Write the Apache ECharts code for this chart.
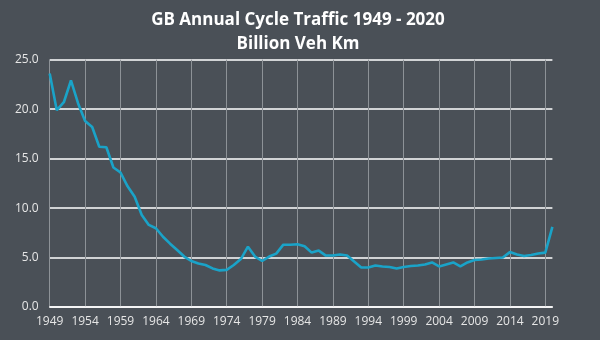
<!DOCTYPE html>
<html><head><meta charset="utf-8">
<script src="https://cdn.jsdelivr.net/npm/echarts@6/dist/echarts.min.js"></script>
<style>html,body{margin:0;padding:0;background:#4a5057;}#c{width:600px;height:340px;}</style>
</head><body><div id="c"></div>
<script>
const titleLines = ['GB Annual Cycle Traffic 1949 - 2020', 'Billion Veh Km'];
const years = [];
for (let y = 1949; y <= 2020; y++) years.push(String(y));
const traffic = [
  23.6, 19.9, 20.7, 22.9, 20.6, 18.8, 18.2, 16.2, 16.15, 14.1,
  13.6, 12.2, 11.15, 9.3, 8.3, 7.96, 7.1, 6.4, 5.76, 5.1,
  4.65, 4.4, 4.25, 3.9, 3.7, 3.75, 4.25, 4.85, 6.1, 5.1,
  4.65, 5.1, 5.4, 6.3, 6.3, 6.35, 6.15, 5.5, 5.7, 5.2,
  5.2, 5.3, 5.2, 4.6, 4.0, 4.0, 4.2, 4.1, 4.05, 3.9,
  4.05, 4.15, 4.2, 4.3, 4.5, 4.1, 4.3, 4.5, 4.1, 4.5,
  4.75, 4.8, 4.9, 4.95, 5.0, 5.55, 5.3, 5.15, 5.25, 5.4,
  5.5, 8.1
];
const yTicks = { min: 0, max: 25, interval: 5 };

const chart = echarts.init(document.getElementById('c'));
chart.setOption({
  backgroundColor: '#4a5057',
  animation: false,
  title: {
    text: titleLines.join('\n'),
    left: 293,
    textAlign: 'center',
    top: 3,
    textStyle: { color: '#ffffff', fontFamily: 'Open Sans', fontWeight: 'bold', fontSize: 17, lineHeight: 24 }
  },
  grid: { left: 49.7, right: 47.6, top: 59.7, bottom: 33 },
  xAxis: {
    type: 'category',
    data: years,
    boundaryGap: false,
    axisLine: { show: true, lineStyle: { color: '#ffffff', width: 1.5 } },
    axisTick: { show: false },
    axisLabel: { interval: 4, color: '#e6e6e6', fontFamily: 'Open Sans', fontSize: 12, margin: 9 },
    splitLine: { show: true, interval: 4, lineStyle: { color: '#8d9297', width: 1 } }
  },
  yAxis: {
    type: 'value',
    min: yTicks.min, max: yTicks.max, interval: yTicks.interval,
    axisLine: { show: false },
    axisTick: { show: false },
    axisLabel: { color: '#e6e6e6', fontFamily: 'Open Sans', fontSize: 12, margin: 11,
      formatter: v => v.toFixed(1) },
    splitLine: { show: true, lineStyle: { color: '#ffffff', width: 1.5 } }
  },
  series: [{
    type: 'line',
    data: traffic,
    symbol: 'none',
    lineStyle: { color: '#1aa3c8', width: 2.6 },
    z: 5
  }]
});
</script></body></html>
